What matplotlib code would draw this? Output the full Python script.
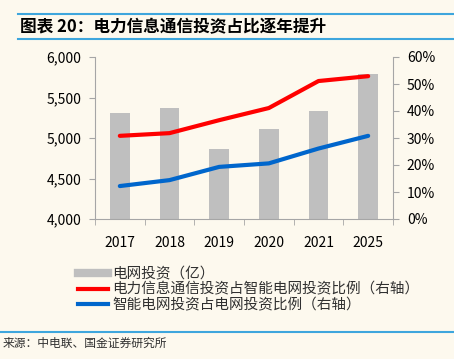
import numpy as np
import matplotlib.pyplot as plt

plt.rcParams['font.family'] = ['Noto Sans CJK SC', 'DejaVu Sans']

years = ['2017', '2018', '2019', '2020', '2021', '2025']
grid_invest = [5305, 5370, 4860, 5110, 5335, 5790]
ict_share = [30.8, 31.8, 36.6, 41.1, 51.1, 52.9]
smart_share = [12.2, 14.4, 19.3, 20.6, 26.1, 30.8]

label_bar = '电网投资（亿）'
label_red = '电力信息通信投资占智能电网投资比例（右轴）'
label_blue = '智能电网投资占电网投资比例（右轴）'

bg = '#FDF9EE'
axis_c = '#A6A6A6'

fig = plt.figure(figsize=(4.54, 3.59), dpi=100, facecolor=bg)

# title and source frame
fig.add_artist(plt.Line2D([18/454, 1], [1 - 14/359] * 2, color='#3EA6DD', lw=1.5))
fig.add_artist(plt.Line2D([18/454, 1], [1 - 39/359] * 2, color='#3EA6DD', lw=1.5))
fig.add_artist(plt.Line2D([0, 1], [1 - 332/359] * 2, color='#3EA6DD', lw=1.5))
fig.text(20/454, 1 - 27/359, '图表 20：电力信息通信投资占比逐年提升', fontsize=12,
         fontweight='bold', style='italic', va='center', ha='left', color='black')
fig.text(3/454, 1 - 343/359, '来源：中电联、国金证券研究所', fontsize=8.5,
         va='center', ha='left', color='#303030')

ax = fig.add_axes([95/454, 1 - 219/359, 298/454, 162/359], facecolor=bg)
x = np.arange(len(years))
ax.bar(x, grid_invest, width=0.39, color='#BFBFBF', label=label_bar, zorder=1)
ax.set_ylim(4000, 6000)
ax.set_xlim(-0.5, len(years) - 0.5)
ax.set_yticks(np.arange(4000, 6001, 500))
ax.set_yticklabels([f'{v:,}' for v in range(4000, 6001, 500)])
ax.set_xticks(x)
ax.set_xticklabels(years)
ax.set_xticks(np.arange(-0.5, len(years)), minor=True)
ax.tick_params(axis='x', which='major', length=0, pad=12)
ax.tick_params(axis='x', which='minor', length=4, color=axis_c)
ax.tick_params(axis='y', length=4, color=axis_c, pad=6)
ax.tick_params(labelsize=10, labelcolor='black')
for s in ['top', 'right']:
    ax.spines[s].set_visible(False)
for s in ['left', 'bottom']:
    ax.spines[s].set_color(axis_c)

ax2 = ax.twinx()
ax2.plot(x, ict_share, color='#FF0000', lw=3, label=label_red, solid_capstyle='round')
ax2.plot(x, smart_share, color='#0066CC', lw=3, label=label_blue, solid_capstyle='round')
ax2.set_ylim(0, 60)
ax2.set_yticks(np.arange(0, 61, 10))
ax2.set_yticklabels([f'{v}%' for v in range(0, 61, 10)])
ax2.tick_params(axis='y', length=4, color=axis_c, labelsize=10, pad=6)
for s in ['top', 'left', 'bottom']:
    ax2.spines[s].set_visible(False)
ax2.spines['right'].set_color(axis_c)

handles = [plt.Line2D([], [], color='#BFBFBF', lw=6),
           plt.Line2D([], [], color='#FF0000', lw=3),
           plt.Line2D([], [], color='#0066CC', lw=3)]
fig.legend(handles, [label_bar, label_red, label_blue], loc='upper left',
           bbox_to_anchor=(65/454, 1 - 254/359), frameon=False, fontsize=10.5,
           handlelength=2.05, handletextpad=0.3, labelspacing=0.1,
           labelcolor='#303030')

fig.savefig('out.png', dpi=100, facecolor=bg)
